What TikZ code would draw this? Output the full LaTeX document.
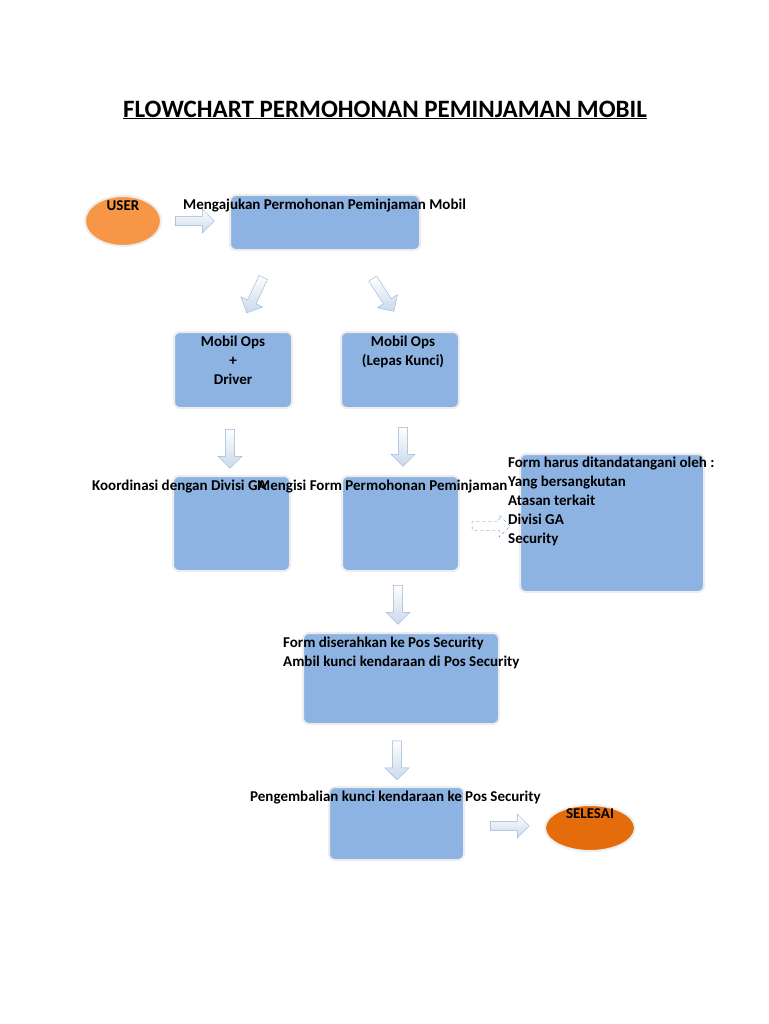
\documentclass[tikz,border=0pt]{standalone}
\usepackage{fontspec}
\setmainfont{Carlito}
\usetikzlibrary{shapes.arrows,shapes.geometric}
\definecolor{boxblue}{RGB}{141,179,226}
\definecolor{userorange}{RGB}{247,150,70}
\definecolor{endorange}{RGB}{228,108,10}
\definecolor{arrowline}{RGB}{149,179,215}
\definecolor{dashline}{RGB}{79,129,189}

\begin{document}
\begin{tikzpicture}[x=1pt,y=-1pt]
\useasboundingbox (0,0) rectangle (768,1024);
\tikzset{box/.style={draw=black!7, line width=2pt, fill=boxblue,
                     rounded corners=6pt, inner sep=0pt},
         oval/.style={ellipse, draw=black!7, line width=2pt, inner sep=0pt},
         label/.style={inner sep=0pt, font=\fontsize{15}{19}\selectfont\bfseries},
         fat/.style={single arrow, draw=arrowline, top color=white,
                     bottom color=arrowline!50, minimum width=24pt,
                     single arrow head extend=5pt, inner sep=3pt,
                     minimum height=39pt},
         fatdash/.style={single arrow, draw=dashline, dashed, fill=white,
                     minimum width=22pt, single arrow head extend=5pt,
                     inner sep=3pt, minimum height=38pt}
        }
% title
\node[inner sep=0pt, font=\fontsize{25}{30}\selectfont\bfseries] (title) at (385,110)
     {\underline{FLOWCHART PERMOHONAN PEMINJAMAN MOBIL}};
% shapes
\node[oval, fill=userorange, minimum width=76pt, minimum height=50pt] (user) at (123,221) {};
\node[box, minimum width=190pt, minimum height=55pt] (ajukan) at (325,222.5) {};
\node[box, minimum width=118pt, minimum height=76pt] (driver) at (233,370) {};
\node[box, minimum width=118pt, minimum height=76pt] (lepas) at (400,370) {};
\node[box, minimum width=117pt, minimum height=95pt] (koord) at (231.5,523.5) {};
\node[box, minimum width=117pt, minimum height=95pt] (isi) at (400.5,523.5) {};
\node[box, minimum width=196pt, minimum height=91pt] (serah) at (401,678.5) {};
\node[box, minimum width=135pt, minimum height=73pt] (kembali) at (396.5,823.5) {};
\node[oval, fill=endorange, minimum width=90pt, minimum height=46pt] (selesai) at (590,828) {};
% block arrows
\node[fat] (a1) at (192.5,221) {};
\node[fat, rotate=-115] (a2) at (256,293) {};
\node[fat, rotate=-57] (a3) at (382,293) {};
\node[fat, rotate=-90] (a4) at (230,446.5) {};
\node[fat, rotate=-90] (a5) at (403,444.5) {};
\node[fat, rotate=-90] (a6) at (398,602.5) {};
\node[fat, rotate=-90] (a7) at (397,758) {};
\node[fat] (a8) at (507.5,826) {};
% texts
\node[label, anchor=north] at (123,200) {USER};
\node[label, anchor=north west] at (183,199) {Mengajukan Permohonan Peminjaman Mobil};
\node[label, anchor=north, align=center] at (233,336) {Mobil Ops\\+\\Driver};
\node[label, anchor=north, align=center] at (403,336) {Mobil Ops\\(Lepas Kunci)};
\node[label, anchor=north west] at (92,480) {Koordinasi dengan Divisi GA};
\begin{scope}
\clip (0,0) rectangle (506,1024);
\node[label, anchor=north west] at (257,480) {Mengisi Form Permohonan Peminjaman Mobil};
\end{scope}
\node[box, minimum width=184pt, minimum height=138pt] (ttd) at (612,523) {};
\node[fatdash] (a9) at (489,526) {};
\node[label, anchor=north west, align=left] at (508,457)
     {Form harus ditandatangani oleh :\\Yang bersangkutan\\Atasan terkait\\Divisi GA\\Security};
\node[label, anchor=north west, align=left] at (283,637)
     {Form diserahkan ke Pos Security\\Ambil kunci kendaraan di Pos Security};
\node[label, anchor=north west] at (250,791) {Pengembalian kunci kendaraan ke Pos Security};
\node[label, anchor=north] at (590,808) {SELESAI};
\end{tikzpicture}
\end{document}
